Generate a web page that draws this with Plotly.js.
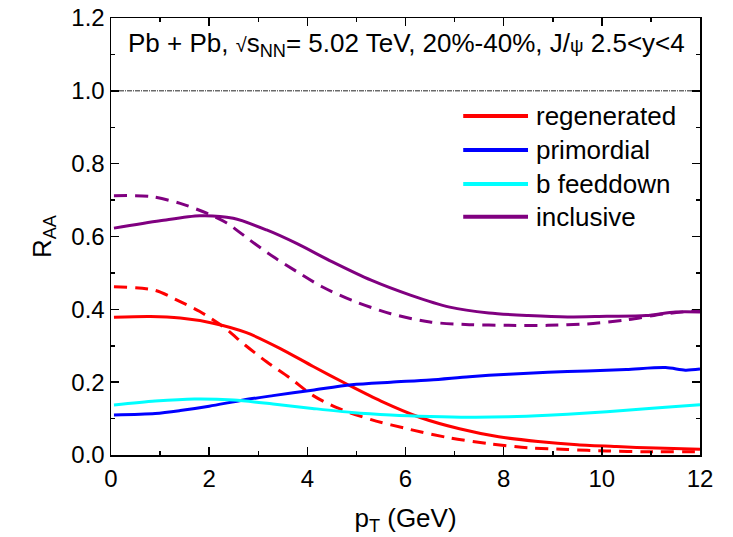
<!DOCTYPE html>
<html><head><meta charset="utf-8">
<script src="https://cdn.plot.ly/plotly-3.0.1.min.js"></script>
<style>body{margin:0;background:#fff}#chart{width:733px;height:537px}</style>
</head><body><div id="chart"></div>
<script>
const ptRegenSolid = [0.06,0.8,1.41,2.08,2.76,3.44,4.12,4.8,5.5,6.3,7.1,7.9,8.7,9.5,10.3,11.1,12];
const regenSolid   = [0.378,0.38,0.376,0.362,0.336,0.293,0.243,0.195,0.148,0.103,0.072,0.05,0.037,0.028,0.023,0.019,0.016];
const ptRegenDash  = [0.06,0.9,1.41,1.81,2.29,2.73,3.17,3.65,4.12,4.6,5.3,6.1,6.9,7.7,8.5,9.3,10.1,10.9,12];
const regenDash    = [0.462,0.452,0.421,0.394,0.352,0.302,0.256,0.211,0.163,0.13,0.097,0.07,0.047,0.031,0.02,0.015,0.011,0.009,0.009];
const ptPrim  = [0.06,0.9,1.41,2.0,2.7,3.3,4.1,4.9,5.7,6.5,7.3,8.1,8.9,9.7,10.5,11.3,11.7,12];
const prim    = [0.11,0.114,0.122,0.134,0.151,0.163,0.178,0.193,0.2,0.206,0.215,0.222,0.227,0.231,0.235,0.24,0.233,0.236];
const ptFeed  = [0.06,0.9,1.7,2.5,3.3,4.1,4.9,5.7,6.5,7.3,8.1,8.9,9.7,10.5,11.3,12];
const feed    = [0.137,0.148,0.154,0.151,0.14,0.128,0.117,0.11,0.106,0.104,0.105,0.109,0.115,0.123,0.131,0.138];
const ptInclSolid = [0.06,1.0,1.81,2.49,3.17,3.78,4.5,5.3,6.1,6.9,7.7,8.5,9.3,10.1,10.9,11.5,12];
const inclSolid   = [0.623,0.643,0.657,0.65,0.618,0.581,0.531,0.48,0.439,0.406,0.39,0.383,0.379,0.381,0.383,0.393,0.393];
const ptInclDash  = [0.06,0.8,1.41,1.95,2.36,2.83,3.3,3.78,4.3,4.9,5.7,6.5,7.3,8.1,8.9,9.7,10.5,11.3,12];
const inclDash    = [0.712,0.71,0.691,0.664,0.637,0.59,0.545,0.504,0.462,0.425,0.388,0.365,0.358,0.356,0.356,0.36,0.371,0.388,0.397];
const seriesNames = ["regenerated","primordial","b feeddown","inclusive"];
const refLine = [1.0,1.0];
const refX = [0,12];

const RED='#ff0000', BLUE='#0000ff', CYAN='#00ffff', PURPLE='#800080';
const colors = [RED,BLUE,CYAN,PURPLE];
const lw = 3;
const DASH = '13px,8px';
function tr(x,y,color,dash){
  return {x:x,y:y,type:'scatter',mode:'lines',showlegend:false,
    line:{color:color,width:lw,dash:dash,shape:'spline',smoothing:0.8}};
}
const data = [
  {x:refX,y:refLine,type:'scatter',mode:'lines',showlegend:false,line:{color:'#222',width:1,dash:'5px,1px,1px,1px'}},
  tr(ptRegenDash,regenDash,RED,DASH),
  tr(ptInclDash,inclDash,PURPLE,DASH),
  tr(ptRegenSolid,regenSolid,RED,'solid'),
  tr(ptPrim,prim,BLUE,'solid'),
  tr(ptFeed,feed,CYAN,'solid'),
  tr(ptInclSolid,inclSolid,PURPLE,'solid')
];
const F = 'Liberation Sans, Arial, sans-serif';
const axisCommon = {showgrid:false,zeroline:false,showline:true,linecolor:'#000',linewidth:1.5,
  mirror:'allticks',ticks:'inside',ticklen:8,tickwidth:1.5,tickcolor:'#000',
  tickfont:{family:F,size:24,color:'#000'}};
const legRowsY = [0.776,0.698,0.620,0.545];
const shapes = [], annotations = [];
seriesNames.forEach((n,i)=>{
  shapes.push({type:'line',xref:'paper',yref:'paper',x0:0.598,x1:0.708,y0:legRowsY[i],y1:legRowsY[i],
    line:{color:colors[i],width:4}});
  annotations.push({xref:'paper',yref:'paper',x:0.718,y:legRowsY[i],xanchor:'left',yanchor:'middle',
    showarrow:false,text:n,font:{family:F,size:26,color:'#000'}});
});
annotations.push({xref:'paper',yref:'paper',x:0.501,y:0.94,xanchor:'center',yanchor:'middle',showarrow:false,
    text:'Pb + Pb, <span style="font-size:20px">√</span>s<sub>NN</sub>= 5.02 TeV, 20%-40%, J/<span style="font-size:19px">ψ</span> 2.5<y<4',
    font:{family:F,size:26,color:'#000'}});
const layout = {
  width:733,height:537,margin:{l:111,r:33,t:18,b:82},
  paper_bgcolor:'#fff',plot_bgcolor:'#fff',
  font:{family:F,color:'#000'},showlegend:false,
  xaxis:Object.assign({},axisCommon,{range:[0,12],dtick:2,tick0:0,ticklabelstandoff:2,
    minor:{dtick:1,ticks:'inside',ticklen:4,tickwidth:1.5,tickcolor:'#000'},
    title:{text:'p<sub>T</sub> (GeV)',font:{family:F,size:26},standoff:17}}),
  yaxis:Object.assign({},axisCommon,{range:[0,1.2],dtick:0.2,tick0:0,tickformat:'.1f',
    minor:{dtick:0.1,ticks:'inside',ticklen:4,tickwidth:1.5,tickcolor:'#000'},
    title:{text:'R<sub>AA</sub>',font:{family:F,size:26},standoff:12}}),
  shapes:shapes, annotations:annotations
};
Plotly.newPlot('chart',data,layout,{displayModeBar:false,staticPlot:true});
</script></body></html>
